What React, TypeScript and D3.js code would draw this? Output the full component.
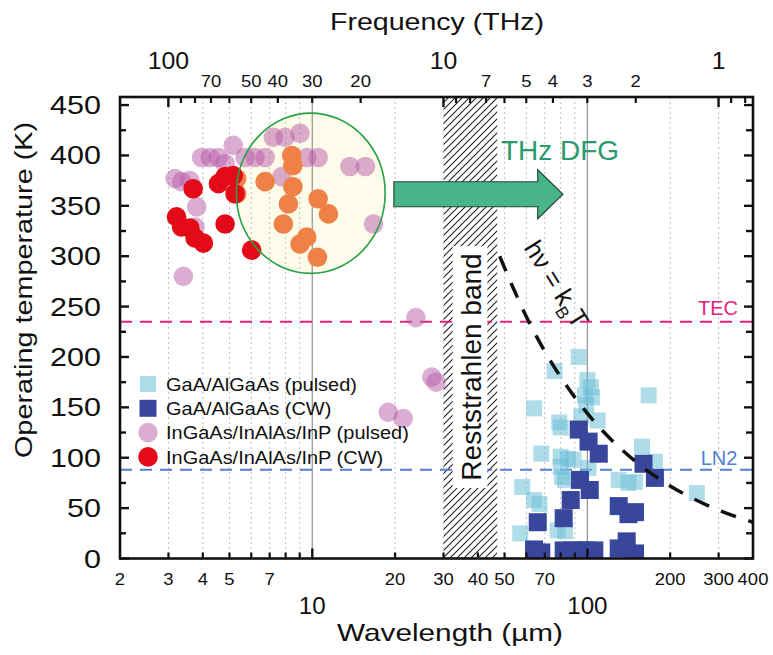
import React from "react";
import * as d3 from "d3";

// ---------- data ----------
const gaasPulsedWl = [93, 76, 100, 103, 98, 104, 99, 64, 79, 80, 109, 95, 68, 80, 85, 89, 80, 81, 83, 101, 58, 64, 67, 57, 78, 83, 130, 141, 149, 158, 176, 167, 250];
const gaasPulsedT = [200, 186, 177, 170, 162, 160, 152, 149, 135, 130, 137, 141, 104, 101, 99, 98, 91, 81, 78, 90, 71, 58, 54, 25, 28, 27, 78, 75, 76, 111, 96, 162, 65];

const gaasCwWl = [93, 101, 110, 160, 176, 94, 102, 87, 82, 66, 130, 141, 149, 64, 68, 82, 88, 95, 100, 106, 130, 139, 149];
const gaasCwT = [128, 116, 104, 94, 80, 78, 68, 58, 40, 36, 52, 44, 46, 9, 6, 8, 8, 8, 8, 8, 10, 17, 5];

const inpPulsedWl = [3.17, 3.35, 3.59, 3.96, 4.25, 4.56, 4.82, 5.16, 5.7, 6.19, 6.74, 7.22, 7.96, 9.02, 9.55, 10.5, 7.75, 3.8, 3.75, 3.4, 13.7, 15.6, 16.7, 23.8, 27.2, 28.2, 18.9, 21.4];
const inpPulsedT = [377, 374, 375, 398, 398, 398, 392, 410, 398, 398, 398, 418, 418, 422, 398, 398, 379, 349, 329, 280, 389, 389, 332, 239, 180, 175, 145, 139];

const dfgWl = [5.31, 5.31, 6.74, 8.42, 8.5, 8.5, 8.19, 7.85, 10.5, 11.45, 9.55, 9.02, 10.44];
const dfgT = [377, 362, 374, 400, 390, 369, 352, 332, 357, 342, 319, 312, 299];

const inpCwWl = [3.69, 4.56, 4.82, 5.16, 5.24, 3.21, 3.35, 3.59, 3.75, 4.02, 4.82, 6.02];
const inpCwT = [367, 372, 379, 380, 362, 339, 329, 328, 318, 313, 332, 306];

// hv = kBT line, read points
const kbtWl = [48, 60, 80, 100, 150, 200, 300, 400];
const kbtT = [300, 240, 180, 144, 96, 72, 48, 36];

const tecT = 235;
const ln2T = 88;

const wlGridMinor = [3, 4, 5, 6, 7, 8, 9, 20, 30, 40, 50, 60, 70, 80, 90, 200, 300];
const wlGridMajor = [10, 100];
const wlLabelsMinor = [2, 3, 4, 5, 7, 20, 30, 40, 50, 70, 200, 300, 400];
const wlLabelsMajor = [10, 100];
const freqTicksMinor = [90, 80, 70, 60, 50, 40, 30, 20, 9, 8, 7, 6, 5, 4, 3, 2, 0.9, 0.8];
const freqTicksMajor = [100, 10, 1];
const freqLabelsMinor = [70, 50, 40, 30, 20, 7, 5, 4, 3, 2];
const freqLabelsMajor = [100, 10, 1];
const yMajor = [0, 50, 100, 150, 200, 250, 300, 350, 400, 450];
const yMinor = [25, 75, 125, 175, 225, 275, 325, 375, 425];

const legendLabels = [
  "GaA/AlGaAs (pulsed)",
  "GaA/AlGaAs (CW)",
  "InGaAs/InAlAs/InP (pulsed)",
  "InGaAs/InAlAs/InP (CW)",
];

// ---------- styles ----------
const FONT = "'Liberation Sans', Arial, Helvetica, sans-serif";
const C_LIGHT = "rgb(110,192,215)";
const C_DARK = "#38469c";
const C_PINK = "rgb(183,91,167)";
const C_RED = "#e30b17";
const C_ORANGE = "#ef8146";
const C_TEC = "#e3227b";
const C_LN2 = "#4f7fcf";

function ST(props: any) {
  const { x, y, size, sx = 1, rot = 0, anchor = "middle", fill = "#111", children } = props;
  return (
    <g transform={`translate(${x},${y}) rotate(${rot}) scale(${sx},1)`}>
      <text fontSize={size} textAnchor={anchor} fill={fill} fontFamily={FONT}>
        {children}
      </text>
    </g>
  );
}

export default function App() {
  const X0 = 120, X1 = 753, YB = 558.5, YT = 97;
  const x = d3.scaleLog().domain([2, 400]).range([X0, X1]);
  const y = d3.scaleLinear().domain([0, 458]).range([YB, YT]);
  const fx = (f: number) => x(299.79 / f);

  const kbtLine = d3
    .line<number>()
    .x((_, i) => x(kbtWl[i]))
    .y((_, i) => y(kbtT[i]))
    .curve(d3.curveMonotoneX)(kbtWl);

  // ellipse (DFG region)
  const eL = x(5.3), eR = x(18.4), eTop = y(442), eBot = y(283);
  const ecx = (eL + eR) / 2, ecy = (eTop + eBot) / 2;

  // arrow
  const aStart = x(19.8), aHead = x(66), aTip = x(81.5), aY = y(361.5);
  const bh = 12.5, hh = 24.5;
  const arrowPts = [
    [aStart, aY - bh], [aHead, aY - bh], [aHead, aY - hh], [aTip, aY],
    [aHead, aY + hh], [aHead, aY + bh], [aStart, aY + bh],
  ].map((p) => p.join(",")).join(" ");

  const bandL = x(30), bandR = x(47);
  const boxL = x(32.4), boxR = x(43.3), boxT = y(310), boxB = y(70);

  const sqL = 16, sqD = 18, rr = 9.8;

  return (
    <svg width={773} height={655} style={{ position: "absolute", left: 0, top: 0, background: "#fff" }}>
      <defs>
        <clipPath id="plotClip">
          <rect x={X0} y={YT} width={X1 - X0} height={YB - YT} />
        </clipPath>
        <pattern id="hatch" patternUnits="userSpaceOnUse" width={7} height={7}>
          <rect width={7} height={7} fill="#fff" />
          <path d="M-1,1 l2,-2 M0,7 l7,-7 M6,8 l2,-2" stroke="#222" strokeWidth={1.1} />
        </pattern>
      </defs>
      <rect x={0} y={0} width={773} height={655} fill="#fff" />

      {/* ellipse fill */}
      <ellipse cx={ecx} cy={ecy} rx={(eR - eL) / 2} ry={(eBot - eTop) / 2} fill="#fdfbe9" />

      {/* grid */}
      {wlGridMinor.map((v) => (
        <line key={"g" + v} x1={x(v)} x2={x(v)} y1={YT} y2={YB} stroke="#bdbdbd" strokeWidth={1} strokeDasharray="2,3" />
      ))}
      {wlGridMajor.map((v) => (
        <line key={"G" + v} x1={x(v)} x2={x(v)} y1={YT} y2={YB} stroke="#9a9a9a" strokeWidth={1.3} />
      ))}

      {/* reststrahlen band */}
      <rect x={bandL} y={YT} width={bandR - bandL} height={YB - YT} fill="url(#hatch)" />

      {/* TEC / LN2 */}
      <line x1={X0} x2={X1} y1={y(tecT)} y2={y(tecT)} stroke={C_TEC} strokeWidth={2} strokeDasharray="12,8" />
      <line x1={X0} x2={X1} y1={y(ln2T)} y2={y(ln2T)} stroke={C_LN2} strokeWidth={2} strokeDasharray="12,8" />

      <g clipPath="url(#plotClip)">
        {inpPulsedWl.map((v, i) => (
          <circle key={"p" + i} cx={x(v)} cy={y(inpPulsedT[i])} r={rr} fill={C_PINK} fillOpacity={0.5} />
        ))}
        {dfgWl.map((v, i) => (
          <circle key={"o" + i} cx={x(v)} cy={y(dfgT[i])} r={rr} fill={C_ORANGE} />
        ))}
        {inpCwWl.map((v, i) => (
          <circle key={"r" + i} cx={x(v)} cy={y(inpCwT[i])} r={rr} fill={C_RED} />
        ))}
        {gaasPulsedWl.map((v, i) => (
          <rect key={"l" + i} x={x(v) - sqL / 2} y={y(gaasPulsedT[i]) - sqL / 2} width={sqL} height={sqL} fill={C_LIGHT} fillOpacity={0.55} />
        ))}
        {gaasCwWl.map((v, i) => (
          <rect key={"d" + i} x={x(v) - sqD / 2} y={y(gaasCwT[i]) - sqD / 2} width={sqD} height={sqD} fill={C_DARK} />
        ))}
      </g>

      {/* ellipse outline */}
      <ellipse cx={ecx} cy={ecy} rx={(eR - eL) / 2} ry={(eBot - eTop) / 2} fill="none" stroke="#27a244" strokeWidth={1.6} />

      {/* arrow */}
      <polygon points={arrowPts} fill="#49b38a" stroke="#1f4a3a" strokeWidth={1.2} />
      <ST x={560} y={160} size={28} fill="#2a9a6c">THz DFG</ST>

      {/* reststrahlen label */}
      <rect x={boxL} y={boxT} width={boxR - boxL} height={boxB - boxT} fill="#fff" />
      <ST x={481} y={367} size={28} rot={-90}>Reststrahlen band</ST>

      {/* hv = kBT */}
      <path d={kbtLine || ""} fill="none" stroke="#111" strokeWidth={3.5} strokeDasharray="16,13" clipPath="url(#plotClip)" />
      <g transform={`translate(549,289) rotate(58)`}>
        <text fontSize={26} textAnchor="middle" fontFamily={FONT} fill="#111">
          hν = k<tspan fontSize={17} dy={7}>B</tspan><tspan dy={-7}>T</tspan>
        </text>
      </g>

      {/* TEC / LN2 labels */}
      <ST x={718} y={315} size={20} fill={C_TEC}>TEC</ST>
      <ST x={719} y={465} size={20} fill={C_LN2}>LN2</ST>

      {/* legend */}
      {legendLabels.map((lab, i) => {
        const cy = 384 + i * 24.3;
        const mx = 148;
        let mark;
        if (i === 0) mark = <rect x={mx - 8} y={cy - 8} width={16} height={16} fill={C_LIGHT} fillOpacity={0.55} />;
        else if (i === 1) mark = <rect x={mx - 8.5} y={cy - 8.5} width={17} height={17} fill={C_DARK} />;
        else if (i === 2) mark = <circle cx={mx} cy={cy} r={rr} fill={C_PINK} fillOpacity={0.5} />;
        else mark = <circle cx={mx} cy={cy} r={rr} fill={C_RED} />;
        return (
          <g key={"lg" + i}>
            {mark}
            <ST x={166} y={cy + 6.6} size={18.5} sx={1.08} anchor="start">{lab}</ST>
          </g>
        );
      })}

      {/* frame */}
      <rect x={X0} y={YT} width={X1 - X0} height={YB - YT} fill="none" stroke="#111" strokeWidth={2.6} />

      {/* y ticks left & right */}
      {yMajor.map((v) => (
        <g key={"ym" + v}>
          <line x1={X0} x2={X0 + 9} y1={y(v)} y2={y(v)} stroke="#111" strokeWidth={2.4} />
          <line x1={X1} x2={X1 - 9} y1={y(v)} y2={y(v)} stroke="#111" strokeWidth={2.4} />
          <ST x={101} y={y(v) + 9} size={25} sx={1.22} anchor="end">{String(v)}</ST>
        </g>
      ))}
      {yMinor.map((v) => (
        <g key={"yn" + v}>
          <line x1={X0} x2={X0 + 6} y1={y(v)} y2={y(v)} stroke="#111" strokeWidth={2.4} />
          <line x1={X1} x2={X1 - 7} y1={y(v)} y2={y(v)} stroke="#111" strokeWidth={2.4} />
        </g>
      ))}

      {/* bottom ticks */}
      {wlGridMinor.map((v) => (
        <line key={"bt" + v} x1={x(v)} x2={x(v)} y1={YB} y2={YB - 6} stroke="#111" strokeWidth={2.2} />
      ))}
      {wlGridMajor.map((v) => (
        <line key={"BT" + v} x1={x(v)} x2={x(v)} y1={YB} y2={YB - 10} stroke="#111" strokeWidth={2.4} />
      ))}
      {wlLabelsMinor.map((v) => (
        <ST key={"bl" + v} x={x(v)} y={585} size={16.5} sx={1.12}>{String(v)}</ST>
      ))}
      {wlLabelsMajor.map((v) => (
        <ST key={"BL" + v} x={x(v)} y={614} size={23} sx={1.05}>{String(v)}</ST>
      ))}

      {/* top ticks */}
      {freqTicksMinor.map((v) => (
        <line key={"tt" + v} x1={fx(v)} x2={fx(v)} y1={YT} y2={YT + 6} stroke="#111" strokeWidth={2.2} />
      ))}
      {freqTicksMajor.map((v) => (
        <line key={"TT" + v} x1={fx(v)} x2={fx(v)} y1={YT} y2={YT + 10} stroke="#111" strokeWidth={2.4} />
      ))}
      {freqLabelsMinor.map((v) => (
        <ST key={"tl" + v} x={fx(v)} y={87} size={16.5} sx={1.12}>{String(v)}</ST>
      ))}
      {freqLabelsMajor.map((v) => (
        <ST key={"TL" + v} x={fx(v)} y={69} size={23} sx={1.08}>{String(v)}</ST>
      ))}

      {/* titles */}
      <ST x={437} y={30} size={24} sx={1.19}>Frequency (THz)</ST>
      <ST x={450} y={641} size={24} sx={1.24}>Wavelength (µm)</ST>
      <ST x={32} y={290} size={24} sx={1.2} rot={-90}>Operating temperature (K)</ST>
    </svg>
  );
}
